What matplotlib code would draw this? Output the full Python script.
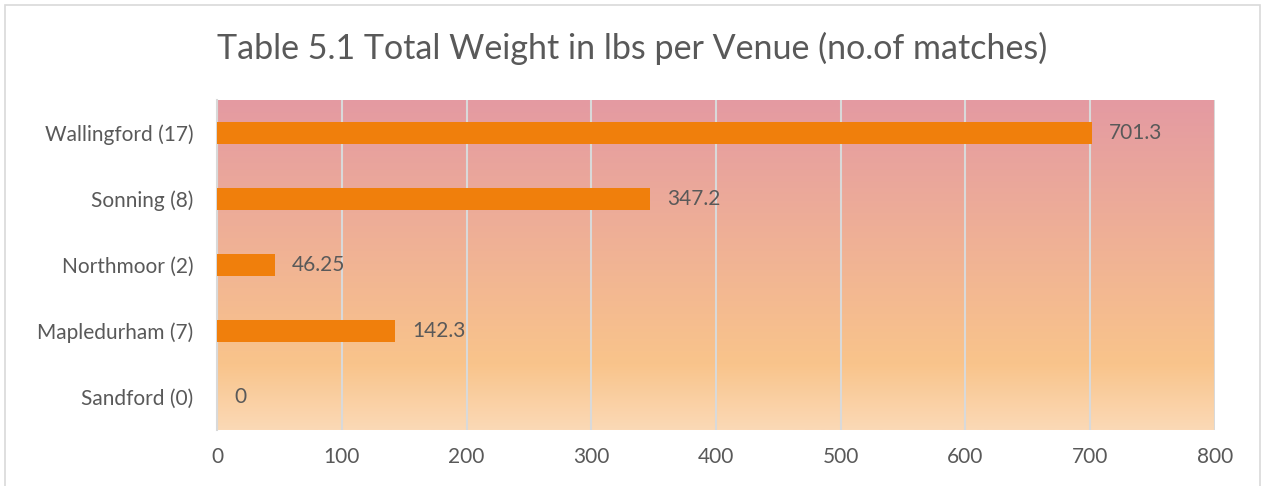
import numpy as np
import matplotlib.pyplot as plt
from matplotlib.colors import LinearSegmentedColormap
from matplotlib.patches import Rectangle

# ---------------------------------------------------------
# Data
# ---------------------------------------------------------
venues = ['Sandford (0)', 'Mapledurham (7)', 'Northmoor (2)', 'Sonning (8)', 'Wallingford (17)']
weights = [0, 142.3, 46.25, 347.2, 701.3]
weight_labels = ['0', '142.3', '46.25', '347.2', '701.3']
x_ticks = [0, 100, 200, 300, 400, 500, 600, 700, 800]

plt.rcParams['font.family'] = ['Lato', 'DejaVu Sans']
text_color = '#595959'

fig = plt.figure(figsize=(12.64, 4.86), dpi=100)
ax = fig.add_axes([0.1717, 0.1152, 0.7895, 0.679])

# gradient background (pink at top to pale orange at bottom)
cmap = LinearSegmentedColormap.from_list(
    'bg', [(0.0, '#FBD9B6'), (0.2, '#F9C48B'), (1.0, '#E49AA2')])
grad = np.linspace(0, 1, 256).reshape(-1, 1)
ax.imshow(grad, aspect='auto', cmap=cmap, origin='lower',
          extent=[0, 1, 0, 1], transform=ax.transAxes, zorder=0)

y = np.arange(len(venues))
ax.barh(y, weights, height=0.34, color='#F07F0C', zorder=3)

for yi, w, lab in zip(y, weights, weight_labels):
    ax.text(w + 14, yi, lab, va='center', ha='left', fontsize=15,
            color=text_color, zorder=4)

ax.set_xlim(0, 800)
ax.set_ylim(-0.5, len(venues) - 0.5)
ax.set_xticks(x_ticks)
ax.set_xticklabels([str(t) for t in x_ticks])
ax.set_yticks(y)
ax.set_yticklabels(venues)
ax.tick_params(axis='both', length=0, labelsize=15, labelcolor=text_color)
ax.tick_params(axis='x', pad=12)
ax.tick_params(axis='y', pad=17)

ax.grid(axis='x', color='#D9D9D9', linewidth=1.5, zorder=1)
ax.set_axisbelow(False)
for side in ['top', 'bottom', 'right']:
    ax.spines[side].set_visible(False)
ax.spines['left'].set_color('#D9D9D9')
ax.spines['left'].set_linewidth(1.5)
ax.spines['left'].set_zorder(2)

fig.suptitle('Table 5.1 Total Weight in lbs per Venue (no.of matches)',
             x=0.5, y=0.935, ha='center', va='top', fontsize=24.5, color=text_color)

# chart border
fig.patches.append(Rectangle((0.004, -0.01), 0.993, 1.0, transform=fig.transFigure,
                             fill=False, edgecolor='#D9D9D9', linewidth=1.2))

plt.savefig('out.png', dpi=100)
